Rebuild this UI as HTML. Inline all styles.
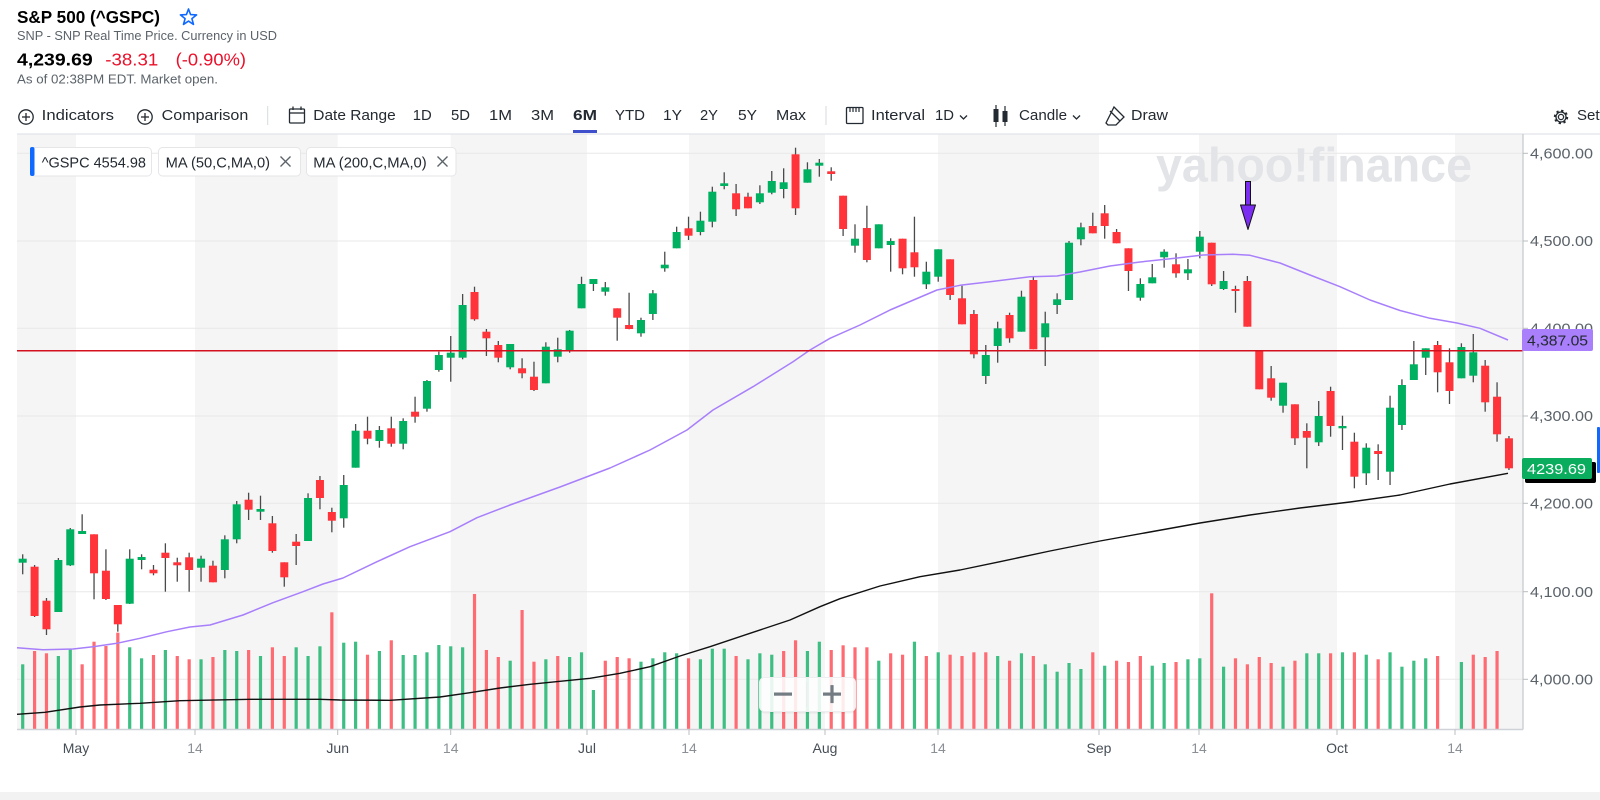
<!DOCTYPE html>
<html><head><meta charset="utf-8">
<style>
html,body{margin:0;padding:0;background:#fff;width:1600px;height:800px;overflow:hidden}
svg{display:block;font-family:"Liberation Sans",Arial,sans-serif}
</style></head><body>
<svg id="s" width="1600" height="800" viewBox="0 0 1600 800" xmlns="http://www.w3.org/2000/svg">
<rect x="0" y="0" width="1600" height="800" fill="#fff"/>
<!-- header -->
<text x="17" y="23" font-size="17.5" font-weight="bold" fill="#000" textLength="143" lengthAdjust="spacingAndGlyphs">S&amp;P 500 (^GSPC)</text>
<polygon points="188.5,9 190.6,14.6 196.6,14.9 191.9,18.6 193.5,24.4 188.5,21.1 183.5,24.4 185.1,18.6 180.4,14.9 186.4,14.6" fill="none" stroke="#0f69ff" stroke-width="1.6" stroke-linejoin="round"/>
<text x="17" y="40" font-size="12.5" fill="#5b636a" textLength="260" lengthAdjust="spacingAndGlyphs">SNP - SNP Real Time Price. Currency in USD</text>
<text x="17" y="65.7" font-size="17.5" font-weight="bold" fill="#000" textLength="75.7" lengthAdjust="spacingAndGlyphs">4,239.69</text>
<text x="105.3" y="65.7" font-size="17.5" fill="#eb0f29" textLength="53" lengthAdjust="spacingAndGlyphs">-38.31</text>
<text x="175.7" y="65.7" font-size="17.5" fill="#eb0f29" textLength="70.3" lengthAdjust="spacingAndGlyphs">(-0.90%)</text>
<text x="17" y="83.3" font-size="12.5" fill="#5b636a" textLength="201" lengthAdjust="spacingAndGlyphs">As of 02:38PM EDT. Market open.</text>

<!-- toolbar -->
<g fill="none" stroke="#232a31" stroke-width="1.3">
<circle cx="26" cy="117" r="7.2"/><line x1="22" y1="117" x2="30" y2="117"/><line x1="26" y1="113" x2="26" y2="121"/>
<circle cx="145" cy="117" r="7.2"/><line x1="141" y1="117" x2="149" y2="117"/><line x1="145" y1="113" x2="145" y2="121"/>
<rect x="289.5" y="109" width="15" height="14" rx="1"/><line x1="289.5" y1="113" x2="304.5" y2="113"/><line x1="293" y1="106.5" x2="293" y2="110"/><line x1="301" y1="106.5" x2="301" y2="110"/>
<rect x="846.5" y="107.5" width="16.5" height="16" rx="1"/>
<polyline points="960,115.5 963.5,119 967,115.5"/>
<polyline points="1073,115.5 1076.5,119 1080,115.5"/>
<path d="M1114,107 L1124,117 L1116,125 L1108,125 L1106,123 Z M1110,111 L1120,121"/>
<circle cx="1561" cy="117" r="2.6"/>
<circle cx="1561" cy="117" r="6" stroke-width="2.4" stroke-dasharray="2.2 2.5"/>
<circle cx="1561" cy="117" r="5" />
</g>
<g stroke="#232a31" stroke-width="1.2">
<line x1="850" y1="108" x2="850" y2="112"/><line x1="853" y1="108" x2="853" y2="112"/><line x1="856" y1="108" x2="856" y2="112"/><line x1="859" y1="108" x2="859" y2="112"/>
<line x1="996" y1="105" x2="996" y2="127"/><line x1="1005" y1="106" x2="1005" y2="126"/>
</g>
<rect x="993.5" y="109" width="5" height="13" fill="#232a31"/>
<rect x="1002.5" y="111" width="5" height="11" fill="#232a31"/>
<line x1="267.7" y1="106" x2="267.7" y2="125" stroke="#d6dadd" stroke-width="1"/>
<line x1="826" y1="106" x2="826" y2="125" stroke="#d6dadd" stroke-width="1"/>
<g font-size="15" fill="#232a31">
<text x="41.7" y="120" textLength="72.3" lengthAdjust="spacingAndGlyphs">Indicators</text>
<text x="161.7" y="120" textLength="86.6" lengthAdjust="spacingAndGlyphs">Comparison</text>
<text x="313.3" y="120" textLength="82.4" lengthAdjust="spacingAndGlyphs">Date Range</text>
<text x="412.7" y="120" textLength="19" lengthAdjust="spacingAndGlyphs">1D</text>
<text x="451" y="120" textLength="19" lengthAdjust="spacingAndGlyphs">5D</text>
<text x="489" y="120" textLength="23" lengthAdjust="spacingAndGlyphs">1M</text>
<text x="531" y="120" textLength="23" lengthAdjust="spacingAndGlyphs">3M</text>
<text x="573" y="120" textLength="24" lengthAdjust="spacingAndGlyphs" font-weight="bold">6M</text>
<text x="615" y="120" textLength="30" lengthAdjust="spacingAndGlyphs">YTD</text>
<text x="663" y="120" textLength="19" lengthAdjust="spacingAndGlyphs">1Y</text>
<text x="700" y="120" textLength="18" lengthAdjust="spacingAndGlyphs">2Y</text>
<text x="738" y="120" textLength="19" lengthAdjust="spacingAndGlyphs">5Y</text>
<text x="776" y="120" textLength="30" lengthAdjust="spacingAndGlyphs">Max</text>
<text x="871" y="120" textLength="54" lengthAdjust="spacingAndGlyphs">Interval</text>
<text x="935" y="120" textLength="19" lengthAdjust="spacingAndGlyphs">1D</text>
<text x="1019" y="120" textLength="48" lengthAdjust="spacingAndGlyphs">Candle</text>
<text x="1131" y="120" textLength="37" lengthAdjust="spacingAndGlyphs">Draw</text>
<text x="1577" y="120">Settings</text>
</g>
<rect x="573" y="130" width="24" height="3" fill="#4050cc"/>

<!-- plot background bands -->
<g fill="#f5f5f5">
<rect x="17" y="134.5" width="59" height="594.8"/>
<rect x="195" y="134.5" width="142.7" height="594.8"/>
<rect x="450.7" y="134.5" width="136.3" height="594.8"/>
<rect x="689" y="134.5" width="136" height="594.8"/>
<rect x="938" y="134.5" width="161" height="594.8"/>
<rect x="1199" y="134.5" width="138" height="594.8"/>
<rect x="1455" y="134.5" width="68" height="594.8"/>
</g>
<line x1="17" y1="134" x2="1600" y2="134" stroke="#e0e4e9" stroke-width="1.2"/>
<!-- gridlines -->
<g stroke="#e8e8e8" stroke-width="1">
<line x1="17" y1="153.3" x2="1523" y2="153.3"/>
<line x1="17" y1="241" x2="1523" y2="241"/>
<line x1="17" y1="328.3" x2="1523" y2="328.3"/>
<line x1="17" y1="416" x2="1523" y2="416"/>
<line x1="17" y1="503.3" x2="1523" y2="503.3"/>
<line x1="17" y1="591.7" x2="1523" y2="591.7"/>
<line x1="17" y1="679.3" x2="1523" y2="679.3"/>
</g>
<!-- watermark -->
<text x="1156" y="181.7" font-size="48" font-weight="bold" fill="#e2e4e7" textLength="316" lengthAdjust="spacingAndGlyphs">yahoo!finance</text>

<g id="vol"></g>
<polyline fill="none" stroke="#111" stroke-width="1.4" stroke-linejoin="round" points="17,714.3 45,712.3 80,707 100,705 140,703.3 180,700.7 250,699.3 320,699.3 340,700 390,700.3 440,697 470,692.7 500,688 530,684.3 570,680.3 590,678.3 620,673.3 650,666.7 680,656 710,646.7 750,633.3 790,620 820,606.7 840,598.7 880,586 920,576.7 960,570 1000,561.7 1050,551 1100,541 1150,532 1200,523 1250,515 1300,508 1350,502 1400,495 1450,484 1508,473.3"/>
<g id="cdl"></g>
<polyline fill="none" stroke="#a87ffb" stroke-width="1.5" stroke-linejoin="round" points="17,647.7 43,649.7 73,649 93,646.7 117,643.3 140,638.3 167,631.7 190,627 210,625 243,615 273,602.7 303,591.7 323,584 343,578 377,561.7 410,546.7 450,531.7 477,517.7 510,505 560,487 610,468 650,450 687,430 713,410 753,386.7 793,361.7 810,350 830,338.3 860,325 890,310 937,290 960,285.3 990,281.7 1030,276.7 1057,276 1080,272 1110,266 1140,262 1175,258.3 1203,255 1233,254.3 1250,255.3 1280,263 1310,275 1340,286.7 1370,300 1400,310.5 1430,318.3 1457,323 1480,328.3 1508,340"/>
<line x1="17" y1="350.7" x2="1523" y2="350.7" stroke="#d4101e" stroke-width="1.5"/>

<!-- axes -->
<line x1="1523" y1="134" x2="1523" y2="729.5" stroke="#c3c7cb" stroke-width="1.2"/>
<line x1="17" y1="729.5" x2="1523" y2="729.5" stroke="#cfd3d7" stroke-width="1.4"/>
<g stroke="#b8bcc0" stroke-width="1">
<line x1="1523" y1="153.3" x2="1528" y2="153.3"/><line x1="1523" y1="241" x2="1528" y2="241"/><line x1="1523" y1="328.3" x2="1528" y2="328.3"/><line x1="1523" y1="416" x2="1528" y2="416"/><line x1="1523" y1="503.3" x2="1528" y2="503.3"/><line x1="1523" y1="591.7" x2="1528" y2="591.7"/><line x1="1523" y1="679.3" x2="1528" y2="679.3"/>
<line x1="76" y1="729.5" x2="76" y2="735"/><line x1="195" y1="729.5" x2="195" y2="735"/><line x1="337.7" y1="729.5" x2="337.7" y2="735"/><line x1="450.7" y1="729.5" x2="450.7" y2="735"/><line x1="587" y1="729.5" x2="587" y2="735"/><line x1="689" y1="729.5" x2="689" y2="735"/><line x1="825" y1="729.5" x2="825" y2="735"/><line x1="938" y1="729.5" x2="938" y2="735"/><line x1="1099" y1="729.5" x2="1099" y2="735"/><line x1="1199" y1="729.5" x2="1199" y2="735"/><line x1="1337" y1="729.5" x2="1337" y2="735"/><line x1="1455" y1="729.5" x2="1455" y2="735"/>
</g>
<g font-size="15" fill="#5b636a">
<text x="1530" y="158.5" textLength="63" lengthAdjust="spacingAndGlyphs">4,600.00</text>
<text x="1530" y="246.2" textLength="63" lengthAdjust="spacingAndGlyphs">4,500.00</text>
<text x="1530" y="333.5" textLength="63" lengthAdjust="spacingAndGlyphs">4,400.00</text>
<text x="1530" y="421.2" textLength="63" lengthAdjust="spacingAndGlyphs">4,300.00</text>
<text x="1530" y="508.5" textLength="63" lengthAdjust="spacingAndGlyphs">4,200.00</text>
<text x="1530" y="596.9" textLength="63" lengthAdjust="spacingAndGlyphs">4,100.00</text>
<text x="1530" y="684.5" textLength="63" lengthAdjust="spacingAndGlyphs">4,000.00</text>
</g>
<g font-size="14" text-anchor="middle">
<text x="76" y="753" fill="#464e56">May</text>
<text x="195" y="753" fill="#8a9096">14</text>
<text x="337.7" y="753" fill="#464e56">Jun</text>
<text x="450.7" y="753" fill="#8a9096">14</text>
<text x="587" y="753" fill="#464e56">Jul</text>
<text x="689" y="753" fill="#8a9096">14</text>
<text x="825" y="753" fill="#464e56">Aug</text>
<text x="938" y="753" fill="#8a9096">14</text>
<text x="1099" y="753" fill="#464e56">Sep</text>
<text x="1199" y="753" fill="#8a9096">14</text>
<text x="1337" y="753" fill="#464e56">Oct</text>
<text x="1455" y="753" fill="#8a9096">14</text>
</g>

<!-- price labels -->
<rect x="1522" y="329" width="71" height="22" rx="2" fill="#a97ffb"/>
<text x="1527" y="345.5" font-size="15" fill="#232a31" textLength="61" lengthAdjust="spacingAndGlyphs">4,387.05</text>
<rect x="1525" y="462" width="71" height="21" rx="2" fill="#000"/>
<rect x="1522" y="458" width="70" height="21" rx="2" fill="#0aad5d"/>
<text x="1527" y="474" font-size="15" fill="#fff" textLength="59" lengthAdjust="spacingAndGlyphs">4239.69</text>
<rect x="1597" y="427" width="3" height="46" rx="1" fill="#0f69ff"/>

<!-- legend chips -->
<g>
<rect x="30.5" y="147.5" width="121" height="28.5" rx="4" fill="#fff" stroke="#e4e6e8" stroke-width="1"/>
<rect x="30" y="147" width="4.5" height="29" rx="2" fill="#0f69ff"/>
<text x="41.7" y="167.5" font-size="14.5" fill="#232a31" textLength="104.3" lengthAdjust="spacingAndGlyphs">^GSPC  4554.98</text>
<rect x="158.5" y="147.5" width="142" height="28.5" rx="4" fill="#fff" stroke="#e4e6e8" stroke-width="1"/>
<text x="165.7" y="167.5" font-size="14.5" fill="#232a31" textLength="104.3" lengthAdjust="spacingAndGlyphs">MA (50,C,MA,0)</text>
<g stroke="#5b636a" stroke-width="1.3"><line x1="280.5" y1="156.5" x2="290.5" y2="166.5"/><line x1="290.5" y1="156.5" x2="280.5" y2="166.5"/></g>
<rect x="306.5" y="147.5" width="149.5" height="28.5" rx="4" fill="#fff" stroke="#e4e6e8" stroke-width="1"/>
<text x="313.3" y="167.5" font-size="14.5" fill="#232a31" textLength="113.4" lengthAdjust="spacingAndGlyphs">MA (200,C,MA,0)</text>
<g stroke="#5b636a" stroke-width="1.3"><line x1="437.5" y1="156.5" x2="447.5" y2="166.5"/><line x1="447.5" y1="156.5" x2="437.5" y2="166.5"/></g>
</g>

<!-- zoom control -->
<rect x="760" y="678" width="96" height="34" rx="5" fill="#000" opacity="0.05" transform="translate(0,1.5)"/>
<rect x="759.5" y="677.5" width="96" height="34" rx="5" fill="#fff" fill-opacity="0.88" stroke="#eceeef" stroke-width="1"/>
<line x1="806.7" y1="682" x2="806.7" y2="707" stroke="#ececec" stroke-width="1"/>
<rect x="774" y="692.5" width="18" height="3.2" fill="#737b83"/>
<rect x="823" y="692.5" width="18" height="3.2" fill="#737b83"/>
<rect x="830.4" y="685.1" width="3.2" height="18" fill="#737b83"/>

<!-- arrow -->
<rect x="1245.5" y="181.5" width="5" height="25" fill="#7b2ef2" stroke="#111" stroke-width="1"/>
<polygon points="1240.5,205 1255.5,205 1248,229.5" fill="#7b2ef2" stroke="#111" stroke-width="1" stroke-linejoin="round"/>

<!-- bottom bar -->
<rect x="0" y="792" width="1600" height="8" fill="#f2f2f2"/>
</svg>
<script>
(function(){
var NS="http://www.w3.org/2000/svg";
function el(t,a,p){var e=document.createElementNS(NS,t);for(var k in a)e.setAttribute(k,a[k]);p.appendChild(e);return e;}
var C=[
['g',558.7,562.7,554.3,574.3],['r',566.7,616,565,617],['r',600.7,629.3,598,635],['g',560,612,558,612],['g',529.3,565.3,528,566],
['g',531,534,514.3,534],['r',534.3,573.3,534.3,599.3],['r',570.7,599,549.3,600],['r',605,624.3,605,631.7],['g',558.7,603.7,549.3,604],
['g',557,560,554.3,569.3],['r',569.7,573.3,565,575.3],['r',552.7,558,543.3,591.7],['r',562.3,565.3,557.7,581.7],['r',557.3,570,552.7,591.7],
['g',558.7,567.7,555.7,581.7],['r',565.7,582.3,560.7,582.3],['g',539.3,570,535.3,578.3],['g',504.3,539.3,501,543.3],['r',499.7,509.7,492.7,520],
['g',509,511.7,495.7,520],['r',523.3,551,516,552.7],['r',562.3,577.3,562.3,586.7],['r',541.7,546,534,565],['g',498,541,493.3,541],
['r',480,498,476,509.3],['r',512,520.7,507.7,532.3],['g',485,518.3,475,527.7],['g',430.7,467.7,424,467.7],['r',430.7,438.7,416.7,444.3],
['g',430,441,426,447.7],['r',428.3,443.7,416.7,446.7],['g',421,443.7,418.3,449.3],['r',411.7,416.7,396.7,422.7],['g',381,408.7,380,411.7],
['g',355,370,351.7,371.7],['g',352.7,357.7,336,381.7],['g',305,357.7,294,359.3],['r',292,319.3,286.7,320.7],['r',331.7,338.3,329,356],
['r',345,357.7,341,362.3],['g',344,367.3,344,369.3],['r',368.3,373.3,358.3,378.3],['r',376.7,390,361.7,391],['g',346.7,383.3,342.3,383.3],
['g',349.3,356.7,337.7,362.3],['g',330.7,351,330,352.7],['g',284,308.3,276.7,308.3],['g',279,284,279,291],['g',287.3,291.7,282,295.7],
['r',308.3,317.7,308.3,340.7],['r',325,329,292.7,329.3],['g',320,333.3,317.7,336.7],['g',293.3,314,290,320],['g',264.7,268.3,251.7,271.7],
['g',232,248.3,226.7,248.3],['r',228.3,235.7,216.7,240],['g',220.7,232,211.7,235.3],['g',191.7,221.7,186.7,227.3],['g',183.3,186,172.3,189.3],
['r',193.3,209.3,184,216],['r',196.7,208.3,192.7,208.3],['g',193.3,202.3,185.3,204],['g',181,192.7,171,194.3],['g',182.3,189,168.3,198.3],
['r',154.3,208.3,147.7,215],['g',169.3,182.7,162.3,182.7],['g',162.7,165.7,159,176.7],['r',171.3,174,167.3,180.7],['r',195.7,229,195.7,236],
['g',238.7,245.7,224.3,252.7],['r',228,260,205.7,262.3],['g',224.3,248.3,224.3,248.3],['g',241,245,238.3,271.7],['r',238.7,268.3,238.7,274.3],
['r',252.3,267.3,216.7,276.7],['g',271.7,284.3,261.7,289],['g',249.3,276.7,249.3,281.7],['r',259.3,295,259.3,300],['r',298.3,324.3,285.7,324.3],
['r',314,354.3,310,358.3],['g',355,376,345,384],['g',328.3,346,321.7,362.7],['r',315,338.3,312.7,342.7],['g',296.7,331.7,290.7,331.7],
['r',280,349.3,276.7,349.3],['g',323.3,337.3,311.7,366],['g',299.3,305,293.3,314],['g',242.7,300,241,300],['g',227.3,239.3,222.7,245.3],
['r',226,233.3,212.7,233.3],['r',213.3,226,205,238.7],['r',232,243.3,229,243.3],['r',248.3,271,248.3,291],['g',284,297.7,278.3,300.7],
['g',277.3,283.3,264,283.3],['g',251.7,257.3,249.3,267.7],['r',264.3,273.3,253.3,277.7],['g',269.3,273.3,259,280],['g',236.7,251.7,231,258.3],
['r',242.7,284.3,242.7,286],['g',281,289,271,290],['r',289,291,285.7,312.7],['r',281,326.7,276,326.7],['r',350,389.3,350,389.3],
['r',378.3,397.7,366,400.7],['g',382.7,405.7,382.7,412.7],['r',404.3,438.3,404.3,445],['r',431,437.7,423.3,468.3],['g',416,442.3,401,446],
['r',391,426,386.7,436.7],['g',426,428.3,415.7,450],['r',441.7,476.7,432.7,488.3],['g',447.7,473.3,443.3,485],['r',451,454,444.3,480],
['g',407.7,471.7,395.7,485],['g',385,425,379.3,430],['g',364.3,380,341,380],['g',348.3,357.7,348.3,375],['r',345,372.3,341,392.3],
['r',362.3,391,348.3,404],['g',347,378.3,343.3,378.3],['g',352.3,375.7,334,382.3],['r',365.7,402.3,360,411.7],['r',396.7,434.3,382.3,441.7],
['r',438.3,468.3,436,470]
];
var V=[664.3,651,653.3,656,649,664.3,641.7,646,632.7,647.3,
658.3,655,650,656,659.3,659.3,657,650,651,650,
656,647.3,656,647.3,656,646.3,612.3,642.7,641.7,654.7,
651,640.3,655,655,652.3,645,646.3,647.3,594,650,
657,660.7,610,661.7,659.3,656,657,652.3,690,660.7,
657,658.3,661.7,658.3,652.3,653.3,658.3,659.3,648.7,648.7,
656,659.3,653.3,654.7,651,640.3,651,641.7,650,645.3,
647.3,647.3,660.7,653.3,654.7,641.7,656,652.3,654.7,656,
652.3,652.3,656,660.7,653.3,656,664.3,671.7,663,669,
652.3,665.7,660.7,662,656,665.7,663,662,659.3,658.3,
593.3,666.7,658.3,664.3,657,663,666.7,660.7,653.3,653.3,
653.3,652.3,652.3,654.7,659.3,652.3,666.7,660.7,658.3,656,
null,662,654.7,657,651];
var VC="grrggrrrrggrgrrgrggrgrrgggrggrgrggggggrrrgrrgrgggrrrggggrgggrgggrrggrrrrgrrgrgrrrrgrgrggggrgrrrggrggrgrrrrgrggrgrgrggggr-grrr";
var X0=22.7,DX=11.89;
var vg=document.getElementById('vol'),cg=document.getElementById('cdl');
for(var i=0;i<V.length;i++){
  if(V[i]===null)continue;
  var x=X0+i*DX;
  el('rect',{x:(x-1.6).toFixed(2),y:V[i],width:3.2,height:(729.3-V[i]).toFixed(2),fill:VC[i]=='g'?'#3dbf83':'#ff6b72'},vg);
}
for(var j=0;j<C.length;j++){
  var c=C[j],cx=X0+j*DX;
  el('line',{x1:cx.toFixed(2),x2:cx.toFixed(2),y1:c[3],y2:c[4],stroke:'#4a4a4a','stroke-width':1.3},cg);
  var h=Math.max(c[2]-c[1],1.8);
  el('rect',{x:(cx-4).toFixed(2),y:c[1],width:8,height:h.toFixed(2),fill:c[0]=='g'?'#00b061':'#ff333a'},cg);
}
})();
</script>
</body></html>
